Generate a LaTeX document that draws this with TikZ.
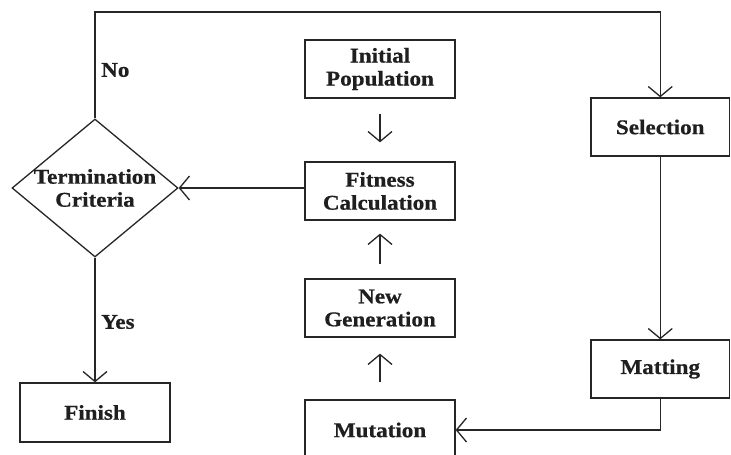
\documentclass[tikz,border=0pt]{standalone}
\usepackage{fontspec}
\setmainfont{Liberation Serif}[FakeStretch=1.1,FakeBold=0.6]
\usetikzlibrary{shapes.geometric,arrows.meta}
\begin{document}
\begin{tikzpicture}[x=1pt,y=-1pt,
  every node/.style={font=\bfseries\fontsize{21}{23}\selectfont, text=black!88},
  box/.style={draw=black!85, line width=1.3pt, rectangle, align=center, inner sep=0pt, minimum width=150pt, minimum height=58pt},
  lbl/.style={anchor=west, inner sep=0pt},
  conn/.style={draw=black!85, line width=1.3pt},
  arr/.style={conn, -{Straight Barb[length=10pt,width=24pt,line width=1.3pt]}}
]
\fill[white] (0,0) rectangle (731,455);
\useasboundingbox (0,0) rectangle (731,455);

\node[box] (init) at (380,69) {Initial\\Population};
\node[box] (fit) at (380,191) {Fitness\\Calculation};
\node[box] (new) at (380,308) {New\\Generation};
\node[box, minimum height=60pt] (mut) at (380,430) {Mutation};
\node[box, minimum width=138.5pt] (sel) at (660.25,127) {Selection};
\node[box, minimum width=138.5pt] (mat) at (660.25,369) {Matting};
\node[box, minimum height=59pt] (fin) at (95,412.5) {Finish};
\node[draw=black!85, line width=1.3pt, diamond, minimum width=166pt, minimum height=138pt, inner sep=0pt,
      label={[align=center, font=\bfseries\fontsize{21}{23}\selectfont, text=black!88]center:Termination\\Criteria}] (term) at (95,188) {};

\node[lbl] (no) at (101,70) {No};
\node[lbl] (yes) at (101,322) {Yes};

\coordinate (topc) at (0,12);

\draw[arr, shorten <=15pt, shorten >=19pt] (init.south) -- (fit.north);
\draw[arr, shorten <=14pt, shorten >=13pt] (new.north) -- (fit.south);
\draw[arr, shorten <=17pt, shorten >=16pt] (mut.north) -- (new.south);
\draw[arr] (term.north) |- (sel.north |- topc) -- (sel.north);
\draw[arr] (sel.south) -- (mat.north);
\draw[arr] (mat.south) |- (mut.east);
\draw[arr] (fit.west |- term.east) -- (term.east);
\draw[arr] (term.south) -- (fin.north);
\end{tikzpicture}
\end{document}
